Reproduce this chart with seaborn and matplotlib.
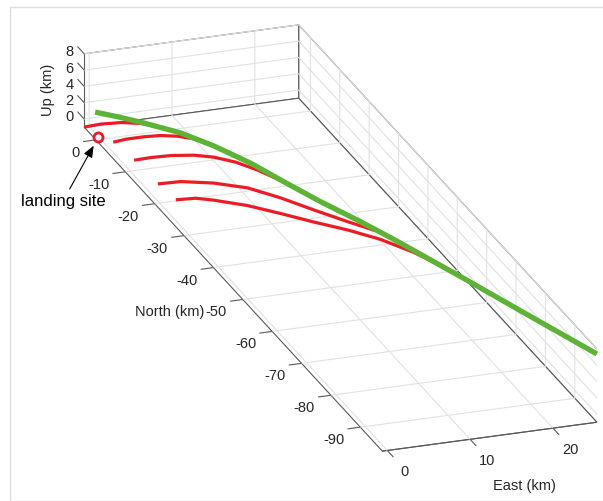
import numpy as np
import matplotlib
matplotlib.use("Agg")
import matplotlib.pyplot as plt
import seaborn as sns
from matplotlib.patches import Rectangle
from mpl_toolkits.mplot3d import proj3d

# aksegraenser og ticks (km)
east_lim = (-0.6, 25.3)
north_lim = (-97.5, 4.0)
up_lim = (-1, 8)
east_ticks = [0, 10, 20]
north_ticks = [0, -10, -20, -30, -40, -50, -60, -70, -80, -90]
up_ticks = [0, 2, 4, 6, 8]

# groen bane
green_east = [0.71, 1.88, 3.11, 4.91, 6.53, 8.34, 9.95, 11.76, 13.71, 15.33, 18.60, 21.88, 25.30]
green_north = [3.96, -0.88, -5.93, -13.39, -20.04, -27.51, -34.16, -41.62, -49.69, -56.35, -69.86, -83.38, -97.50]
green_up = [0.68, 1.81, 2.88, 4.34, 5.13, 5.69, 5.81, 6.03, 6.48, 6.71, 6.99, 7.16, 7.38]

# roede baner
red1_east = [-0.60, 0.40, 0.99, 1.58, 2.76, 3.94]
red1_north = [4.00, 1.05, -0.68, -2.42, -5.89, -9.36]
red1_up = [-1.00, 0.40, 1.08, 1.78, 2.86, 3.56]

red2_east = [1.03, 1.73, 2.71, 3.63, 4.54, 5.52, 6.33, 6.87]
red2_north = [-1.30, -3.73, -7.09, -10.26, -13.43, -16.79, -19.59, -21.46]
red2_up = [-1.00, 0.23, 1.71, 2.98, 4.00, 4.82, 5.19, 5.23]

red3_east = [1.50, 2.46, 3.58, 4.88, 6.00, 7.24, 8.48, 10.05]
red3_north = [-7.10, -10.17, -13.79, -17.94, -21.56, -25.53, -29.51, -34.57]
red3_up = [-1.00, 0.40, 1.91, 3.40, 4.42, 5.19, 5.60, 5.82]

red4_east = [1.70, 3.04, 4.96, 6.94, 8.87, 10.79, 12.77, 14.69]
red4_north = [-14.60, -18.64, -24.43, -30.39, -36.18, -41.98, -47.94, -53.73]
red4_up = [-1.00, 0.69, 2.51, 3.98, 4.76, 5.30, 5.92, 6.62]

red5_east = [2.06, 3.22, 4.27, 6.25, 8.17, 10.09, 12.06, 13.98, 15.90, 17.47, 18.46]
red5_north = [-19.70, -23.21, -26.38, -32.35, -38.15, -43.95, -49.93, -55.73, -61.53, -66.27, -69.26]
red5_up = [-1.00, 0.41, 1.27, 2.67, 3.71, 4.68, 5.78, 6.63, 7.06, 7.10, 6.99]

landing_site = (-0.3, 0.0, -0.7)

red_tracks = [
    (red1_east, red1_north, red1_up),
    (red2_east, red2_north, red2_up),
    (red3_east, red3_north, red3_up),
    (red4_east, red4_north, red4_up),
    (red5_east, red5_north, red5_up),
]

# tema
sns.set_theme(style="white")
plt.rcParams["font.family"] = ["Liberation Sans", "DejaVu Sans"]

farver = {"red": "#ec1c24", "green": "#5cb336"}
tekst_farve = "#262626"
kant_farve = "#5a5a5a"
gitter_farve = "#e2e2e2"
tick_fs = 10.5

W, H = 603, 502
fig = plt.figure(figsize=(W / 100, H / 100), dpi=100)
fig.patch.set_facecolor("white")
ax = fig.add_subplot(projection="3d", proj_type="ortho", computed_zorder=False)
ax.set_xlim(*east_lim)
ax.set_ylim(*north_lim)
ax.set_zlim(*up_lim)
ax.set_box_aspect((228, 900, 79.6))
ax.view_init(elev=22.5, azim=-109.4)

# ingen matplotlib-ticks; gitter, tickmarks og labels tegnes som i matlab
ax.set_xticks([])
ax.set_yticks([])
ax.set_zticks([])

for axis in (ax.xaxis, ax.yaxis, ax.zaxis):
    axis.set_pane_color((1, 1, 1, 1))
    axis.pane.set_edgecolor(kant_farve)
    axis.pane.set_linewidth(0.8)
    axis.line.set_color(kant_farve)
    axis.line.set_linewidth(0.8)

x0, x1 = east_lim
y0, y1 = north_lim
zb, zt = up_lim

# gitter paa gulv og bagvaegge
for t in east_ticks:
    ax.plot([t, t, t], [y0, y1, y1], [zb, zb, zt], color=gitter_farve, lw=0.8, zorder=0.5)
for t in north_ticks:
    ax.plot([x0, x1, x1], [t, t, t], [zb, zb, zt], color=gitter_farve, lw=0.8, zorder=0.5)
for t in up_ticks:
    ax.plot([x0, x1, x1], [y1, y1, y0], [t, t, t], color=gitter_farve, lw=0.8, zorder=0.5)

# tickmarks
for t in east_ticks:
    ax.plot([t, t], [y0, y0 - 2.0], [zb, zb], color=kant_farve, lw=0.8, zorder=1)
for t in north_ticks:
    ax.plot([x0, x0 - 1.5], [t, t], [zb, zb], color=kant_farve, lw=0.8, zorder=1)
for t in up_ticks:
    ax.plot([x0, x0], [y1, y1 + 2.2], [t, t], color=kant_farve, lw=0.8, zorder=1)

# baner
for e, n, u in red_tracks:
    ax.plot(e, n, u, color=farver["red"], lw=2.3, zorder=2, solid_capstyle="butt")
ax.plot(green_east, green_north, green_up, color=farver["green"], lw=3.8, zorder=3,
        solid_capstyle="butt")
ax.plot([landing_site[0]], [landing_site[1]], [landing_site[2]], "o", ms=6.5,
        mfc="white", mec=farver["red"], mew=2, zorder=4)

# placer boksen som i figuren
fig.canvas.draw()


def proj2d(x, y, z):
    xs, ys, _ = proj3d.proj_transform(x, y, z, ax.get_proj())
    return float(xs), float(ys)


def til_pixel(x, y, z):
    return np.array(ax.transData.transform(proj2d(x, y, z)))


p1 = til_pixel(x0, y1, zt)
p2 = til_pixel(x1, y0, zb)
t1 = np.array([84, H - 55])
t2 = np.array([597, H - 423])
k = np.linalg.norm(t2 - t1) / np.linalg.norm(p2 - p1)
bb = ax.get_position().transformed(fig.transFigure)
c = np.array([(bb.x0 + bb.x1) / 2, (bb.y0 + bb.y1) / 2])
c_ny = (t1 + t2) / 2 - k * ((p1 + p2) / 2 - c)
w, h = bb.width * k, bb.height * k
ax.set_position([(c_ny[0] - w / 2) / W, (c_ny[1] - h / 2) / H, w / W, h / H])

# ticklabels som 2d-tekst paa de projicerede punkter
for t in east_ticks:
    ax.text2D(*proj2d(t, y0 - 5.8, zb - 0.30), f"{t}", transform=ax.transData,
              ha="center", va="center", fontsize=tick_fs, color=tekst_farve)
for t in north_ticks:
    ax.text2D(*proj2d(x0 - 1.93, t, zb - 1.2), f"{t}", transform=ax.transData,
              ha="right", va="center", fontsize=tick_fs, color=tekst_farve)
for t in up_ticks:
    ax.text2D(*proj2d(x0 - 1.36, y1 + 1.26, t), f"{t}", transform=ax.transData,
              ha="center", va="center", fontsize=tick_fs, color=tekst_farve)

# aksetitler
fig.text(48 / W, 1 - 90 / H, "Up (km)", rotation=90, ha="center", va="center",
         fontsize=10.5, color=tekst_farve)
fig.text(170 / W, 1 - 312 / H, "North (km)", ha="center", va="center",
         fontsize=10.5, color=tekst_farve)
fig.text(524 / W, 1 - 486 / H, "East (km)", ha="center", va="center",
         fontsize=10.5, color=tekst_farve)

# pil til landingsstedet
ax.annotate("landing site", xy=proj2d(*landing_site), xycoords="data",
            xytext=(63 / W, 1 - 202 / H), textcoords="figure fraction",
            ha="center", va="center", fontsize=12, color="black",
            arrowprops=dict(arrowstyle="-|>,head_length=0.5,head_width=0.2",
                            color="black", lw=0.8, shrinkA=1, shrinkB=7,
                            mutation_scale=14))

# ramme
fig.add_artist(Rectangle((9.5 / W, 1 - 501.5 / H), (W + 5) / W, 494 / H,
                         transform=fig.transFigure, fill=False,
                         ec="#dedede", lw=1.0))

fig.savefig("out.png", dpi=100)
